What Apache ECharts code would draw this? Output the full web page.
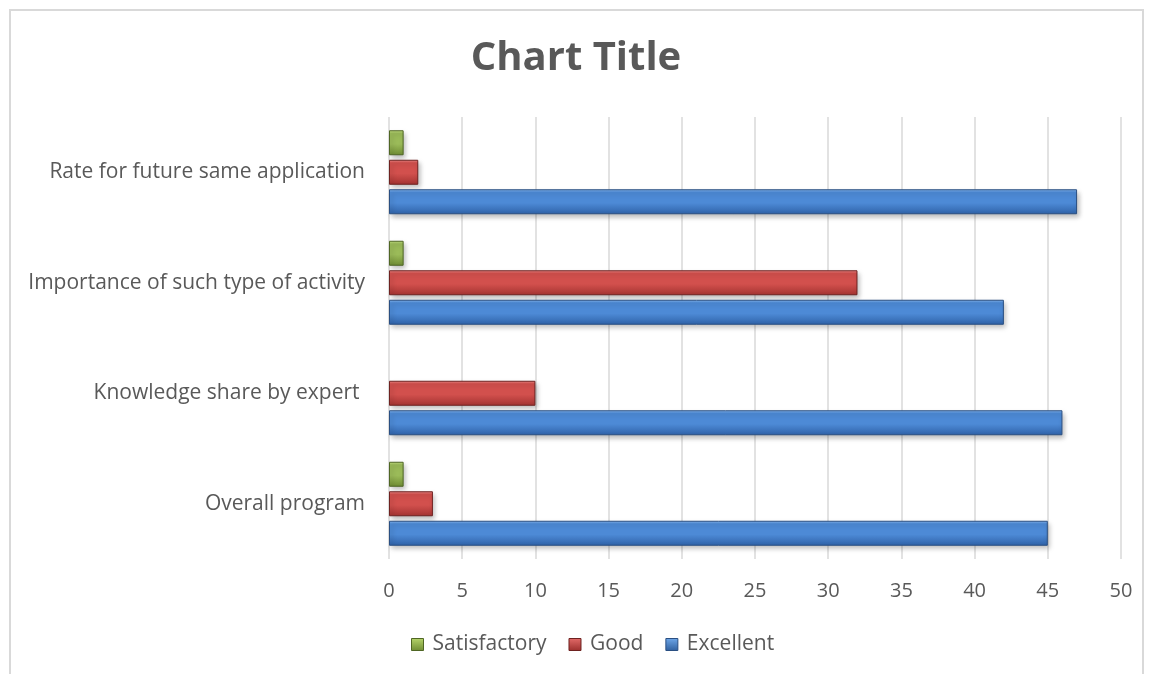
<!DOCTYPE html>
<html><head><meta charset="utf-8">
<script src="https://cdn.jsdelivr.net/npm/echarts@6/dist/echarts.min.js"></script>
<style>html,body{margin:0;padding:0;background:#fff}#c{width:1152px;height:674px}</style>
</head><body><div id="c"></div>
<script>
const categories = ['Overall program', 'Knowledge share by expert ', 'Importance of such type of activity', 'Rate for future same application'];
const excellent = [45, 46, 42, 47];
const good = [3, 10, 32, 2];
const satisfactory = [1, null, 1, 1];
const xTicks = [0, 5, 10, 15, 20, 25, 30, 35, 40, 45, 50];

const FONT = 'Open Sans';
function grad(light, mid, dark) {
  return new echarts.graphic.LinearGradient(0, 0, 0, 1, [
    {offset: 0, color: light}, {offset: 0.12, color: mid}, {offset: 0.55, color: mid}, {offset: 1, color: dark}
  ]);
}
function lgrad(light, dark) {
  return new echarts.graphic.LinearGradient(0, 0, 0, 1, [
    {offset: 0, color: light}, {offset: 1, color: dark}
  ]);
}
const styles = {
  Excellent: {fill: grad('#8cbcf2', '#4d8ad6', '#2f62a8'), border: '#2a4f82', legend: lgrad('#6fa8ea', '#2f5f9e'), lb: '#2a4f82'},
  Good: {fill: grad('#f08f8d', '#d2504d', '#a33331'), border: '#6e2220', legend: lgrad('#e36b69', '#9c2f2d'), lb: '#6e2220'},
  Satisfactory: {fill: grad('#c8e486', '#9bbb59', '#6f8c33'), border: '#4f6624', legend: lgrad('#b6d56b', '#6f8c33'), lb: '#4f6624'}
};
function mk(name, data) {
  const s = styles[name];
  return {
    name, type: 'bar', data, barWidth: 25, barGap: '18%',
    itemStyle: {color: s.fill, borderColor: s.border, borderWidth: 1,
      shadowBlur: 5, shadowOffsetX: 2, shadowOffsetY: 3, shadowColor: 'rgba(0,0,0,0.28)'}
  };
}
const chart = echarts.init(document.getElementById('c'));
chart.setOption({
  animation: false,
  title: {text: 'Chart Title', left: 'center', top: 34,
    textStyle: {fontFamily: FONT, fontSize: 40, fontWeight: 'bold', color: '#595959'}},
  graphic: [{type: 'rect', shape: {x: 10, y: 10, width: 1133, height: 700},
    style: {fill: 'none', stroke: '#d9d9d9', lineWidth: 2}, silent: true}],
  legend: {bottom: 14, left: 406, itemWidth: 12, itemHeight: 12, itemGap: 22, icon: 'rect',
    data: ['Satisfactory', 'Good', 'Excellent'].map(n => ({name: n, itemStyle: {color: styles[n].legend, borderColor: styles[n].lb, borderWidth: 1}})),
    textStyle: {fontFamily: FONT, fontSize: 21, color: '#595959', padding: [0, 0, 0, 4]}},
  grid: {left: 389, right: 31, top: 117, bottom: 115, containLabel: false},
  xAxis: {type: 'value', min: 0, max: 50, interval: 5,
    axisLine: {show: false}, axisTick: {show: false},
    splitLine: {lineStyle: {color: '#d9d9d9', width: 1.5}},
    axisLabel: {margin: 22, fontFamily: FONT, fontSize: 20, color: '#595959',
      formatter: v => xTicks.includes(v) ? String(v) : ''}},
  yAxis: {type: 'category', data: categories,
    axisLine: {show: false}, axisTick: {show: false},
    axisLabel: {margin: 24, fontFamily: FONT, fontSize: 21, color: '#595959'}},
  series: [mk('Satisfactory', satisfactory), mk('Good', good), mk('Excellent', excellent)]
});
</script></body></html>
